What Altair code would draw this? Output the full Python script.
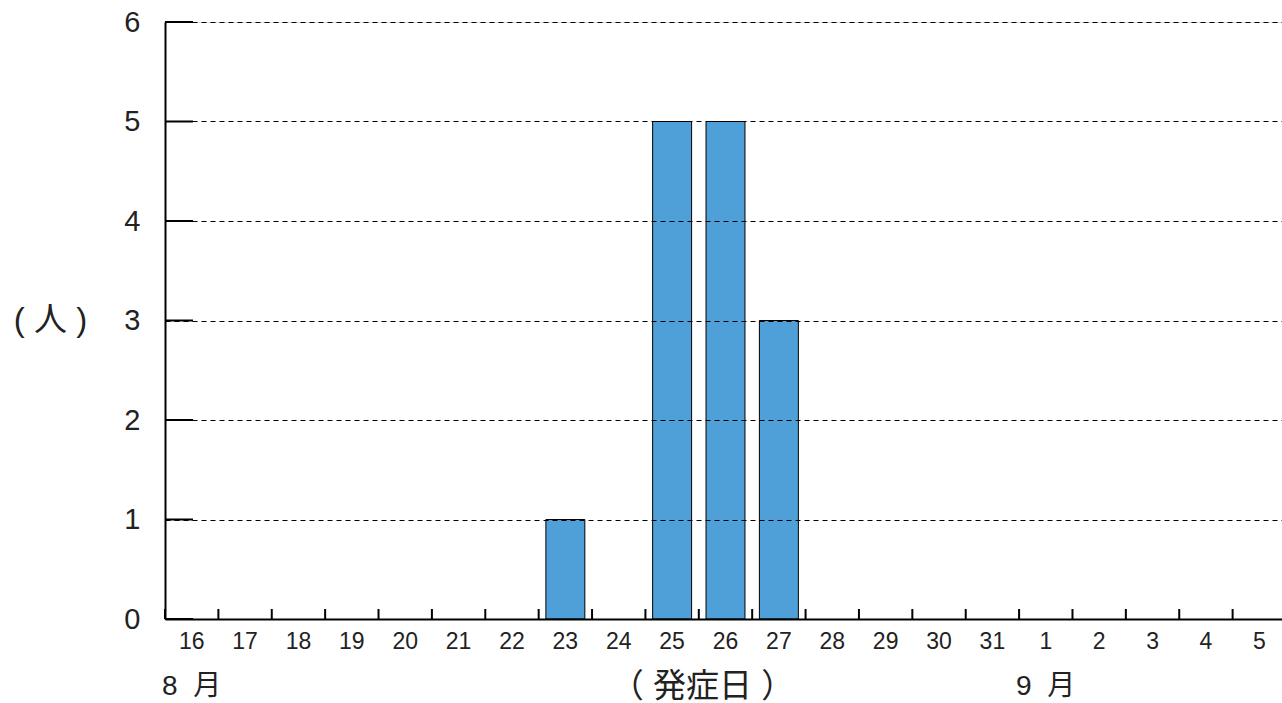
import altair as alt
import pandas as pd

# Onset dates (Aug 16 - Sep 5) and number of cases per day
days = ["16", "17", "18", "19", "20", "21", "22", "23", "24", "25", "26",
        "27", "28", "29", "30", "31", "1", "2", "3", "4", "5"]
cases = [0, 0, 0, 0, 0, 0, 0, 1, 0, 5, 5, 3, 0, 0, 0, 0, 0, 0, 0, 0, 0]
y_ticks = [0, 1, 2, 3, 4, 5, 6]
month_days = ["16", "1"]
month_labels = ["8\u00a0\u00a0月", "9\u00a0\u00a0月"]

W, H = 1117, 597
LATIN = "Liberation Sans"
CJK = "Liberation Sans, Noto Sans CJK JP"

df = pd.DataFrame({"day": days, "cases": cases})
ticks_df = pd.DataFrame({"v": y_ticks})
months_df = pd.DataFrame({"day": month_days, "label": month_labels})

x_scale = alt.Scale(domain=days, range=[0, 1121], paddingInner=0, paddingOuter=0)
y_scale = alt.Scale(domain=[0, 6], nice=False)

bars = alt.Chart(df).transform_filter(alt.datum.cases > 0).mark_bar(
    width=alt.RelativeBandSize(0.73), color="#4FA0D9", stroke="#000000", strokeWidth=1
).encode(
    x=alt.X("day:N", sort=days, scale=x_scale,
            axis=alt.Axis(title="（ 発症日 ）", titleFont=CJK, titleFontSize=33,
                          titleFontWeight="normal", titleColor="#222222",
                          titleX=537, titleY=67, titleAlign="center",
                          titleBaseline="middle",
                          labelFont=LATIN, labelFontSize=23, labelColor="#222222",
                          labelAngle=0, labelPadding=11, labelBaseline="top",
                          ticks=False, tickSize=0, domainColor="#000000",
                          domainWidth=2, grid=False, zindex=1)),
    y=alt.Y("cases:Q", scale=y_scale,
            axis=alt.Axis(values=y_ticks, format="d", title="( 人 )", titleFont=CJK,
                          titleFontSize=33, titleFontWeight="normal",
                          titleColor="#222222", titleAngle=0, titleX=-115,
                          titleY=298, titleAlign="center", titleBaseline="middle",
                          labelFont=LATIN, labelFontSize=29, labelColor="#222222",
                          labelPadding=25, ticks=False, tickSize=0,
                          domainColor="#000000", domainWidth=2,
                          grid=True, gridColor="#000000", gridWidth=1,
                          gridDash=[5, 4], zindex=1)),
)

# Short solid tick marks drawn inward from the y axis
y_tick_marks = alt.Chart(ticks_df).mark_rule(color="#000000", strokeWidth=2).encode(
    y=alt.Y("v:Q", scale=y_scale),
    x=alt.value(0),
    x2=alt.value(28),
)

# Upward tick marks at the boundaries between days
x_tick_marks = alt.Chart(df).mark_rule(color="#000000", strokeWidth=2).encode(
    x=alt.X("day:N", sort=days, scale=x_scale, bandPosition=0),
    y=alt.value(H),
    y2=alt.value(H - 10),
)

months = alt.Chart(months_df).mark_text(
    font=CJK, fontSize=28, color="#222222", align="left", baseline="middle", dx=-3
).encode(
    x=alt.X("day:N", sort=days, scale=x_scale, bandPosition=0),
    y=alt.value(H + 68),
    text="label:N",
)

chart = alt.layer(bars, y_tick_marks, x_tick_marks, months).properties(
    width=W, height=H,
    autosize=alt.AutoSizeParams(type="none"),
    padding={"left": 165, "top": 22, "right": 0, "bottom": 84},
).configure_view(stroke=None).configure(background="white")

chart.save("out.html", embed_options={"renderer": "svg", "actions": False})
